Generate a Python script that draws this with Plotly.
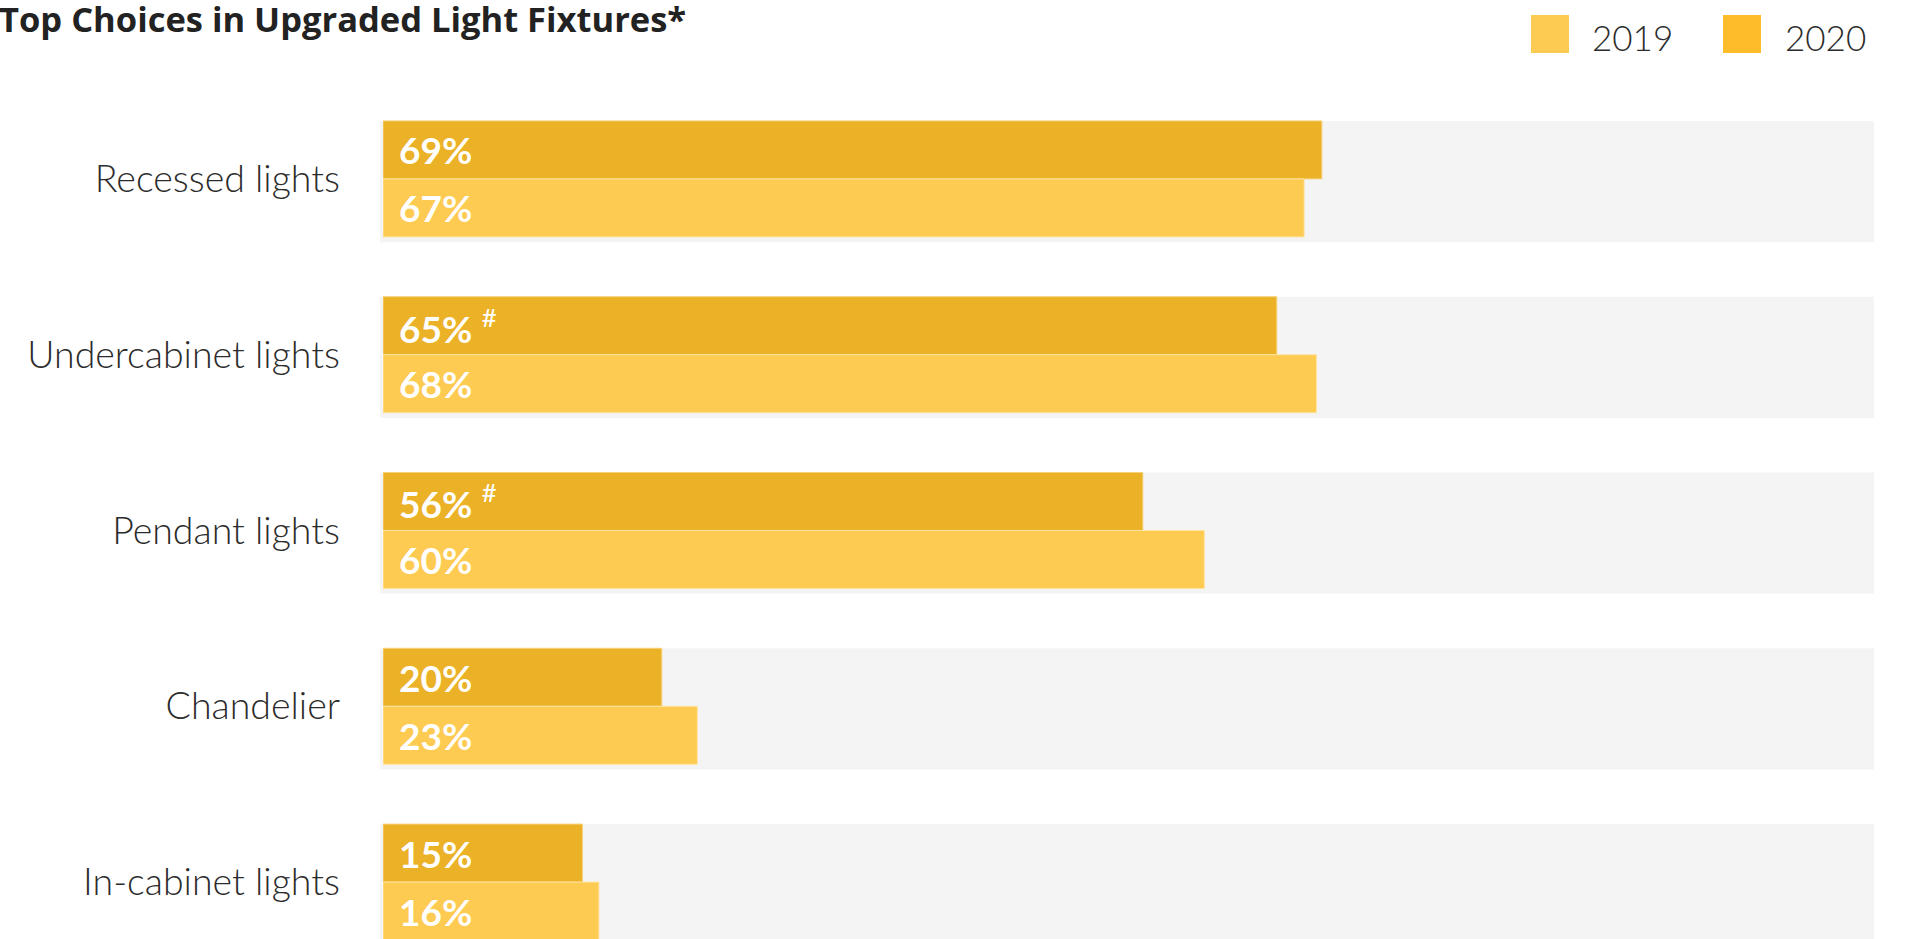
import plotly.graph_objects as go

# ---- data (bar lengths; labels are the rounded values) ----
categories = ["Recessed lights", "Undercabinet lights", "Pendant lights", "Chandelier", "In-cabinet lights"]
values_2019 = [67.4, 68.3, 60.1, 23.0, 15.8]
values_2020 = [68.7, 65.4, 55.6, 20.4, 14.6]
flags_2020 = ["", "#", "#", "", ""]
years = ["2019", "2020"]

title_text = "Top Choices in Upgraded Light Fixtures*"

# ---- style ----
W, H = 1908, 939
L, R = 383, 34
PLOT_W = W - L - R
X_MAX = 109.1
BARGAP = 0.34
Y_RANGE = [4.3237, -1.0176]

C2019 = "#FECB52"
C2020 = "#ECB227"
C2020_LEG = "#FEBC2A"
BG = "#F4F4F4"
TXT = "#2B2B2B"
FONT = "Lato"


def px_x(px):
    return (px - L) / PLOT_W


def px_y(py):
    return 1 - py / H


fig = go.Figure()

fig.add_trace(go.Bar(
    y=categories, x=values_2020, orientation="h", name="2020",
    marker=dict(color=C2020, line=dict(color="#F6D27A", width=1)),
    hoverinfo="x+y",
))
fig.add_trace(go.Bar(
    y=categories, x=values_2019, orientation="h", name="2019",
    marker=dict(color=C2019, line=dict(color="#FFE3A0", width=1)),
    hoverinfo="x+y",
))

bw = (1 - BARGAP) / 2
shapes = []
annotations = []
for i, cat in enumerate(categories):
    # background track
    shapes.append(dict(type="rect", xref="paper", yref="y", x0=px_x(380), x1=1,
                       y0=i - bw, y1=i + bw + 0.03, fillcolor=BG, line=dict(width=0), layer="below"))
    t20 = f"<b>{round(values_2020[i])}%</b>" + (f" <sup>{flags_2020[i]}</sup>" if flags_2020[i] else "")
    annotations.append(dict(x=0, y=i - bw / 2, xref="x", yref="y", text=t20, showarrow=False,
                            xanchor="left", yanchor="middle", xshift=14,
                            font=dict(family=FONT, size=37, color="white")))
    annotations.append(dict(x=0, y=i + bw / 2, xref="x", yref="y",
                            text=f"<b>{round(values_2019[i])}%</b>",
                            showarrow=False, xanchor="left", yanchor="middle", xshift=14,
                            font=dict(family=FONT, size=37, color="white")))

# custom legend
leg = [(years[0], C2019, 1531, 1590), (years[1], C2020_LEG, 1723, 1783)]
for label, col, sx, tx in leg:
    shapes.append(dict(type="rect", xref="paper", yref="paper", x0=px_x(sx), x1=px_x(sx + 38),
                       y0=px_y(53), y1=px_y(15), fillcolor=col, line=dict(width=0)))
    annotations.append(dict(x=px_x(tx), y=px_y(37), xref="paper", yref="paper", text=label,
                            showarrow=False, xanchor="left", yanchor="middle",
                            font=dict(family=FONT, size=35, color=TXT, weight=300)))

# title
annotations.append(dict(x=px_x(-3), y=px_y(18), xref="paper", yref="paper",
                        text=f"<b>{title_text}</b>", showarrow=False, xanchor="left", yanchor="middle",
                        font=dict(family="Open Sans", size=34.5, color="#222222")))

fig.update_layout(
    width=W, height=H,
    margin=dict(l=L, r=R, t=0, b=0, pad=0),
    paper_bgcolor="white", plot_bgcolor="white",
    barmode="group", bargap=BARGAP, bargroupgap=0,
    showlegend=False,
    xaxis=dict(range=[0, X_MAX], visible=False, fixedrange=True),
    yaxis=dict(range=Y_RANGE, showgrid=False, zeroline=False, showline=False, ticks="",
               ticklabelstandoff=42,
               tickfont=dict(family=FONT, size=37.5, color=TXT, weight=300), fixedrange=True),
    shapes=shapes, annotations=annotations,
)

fig.write_html("out.html", config={"displayModeBar": False},
               post_script="document.body.style.margin='0px';")
